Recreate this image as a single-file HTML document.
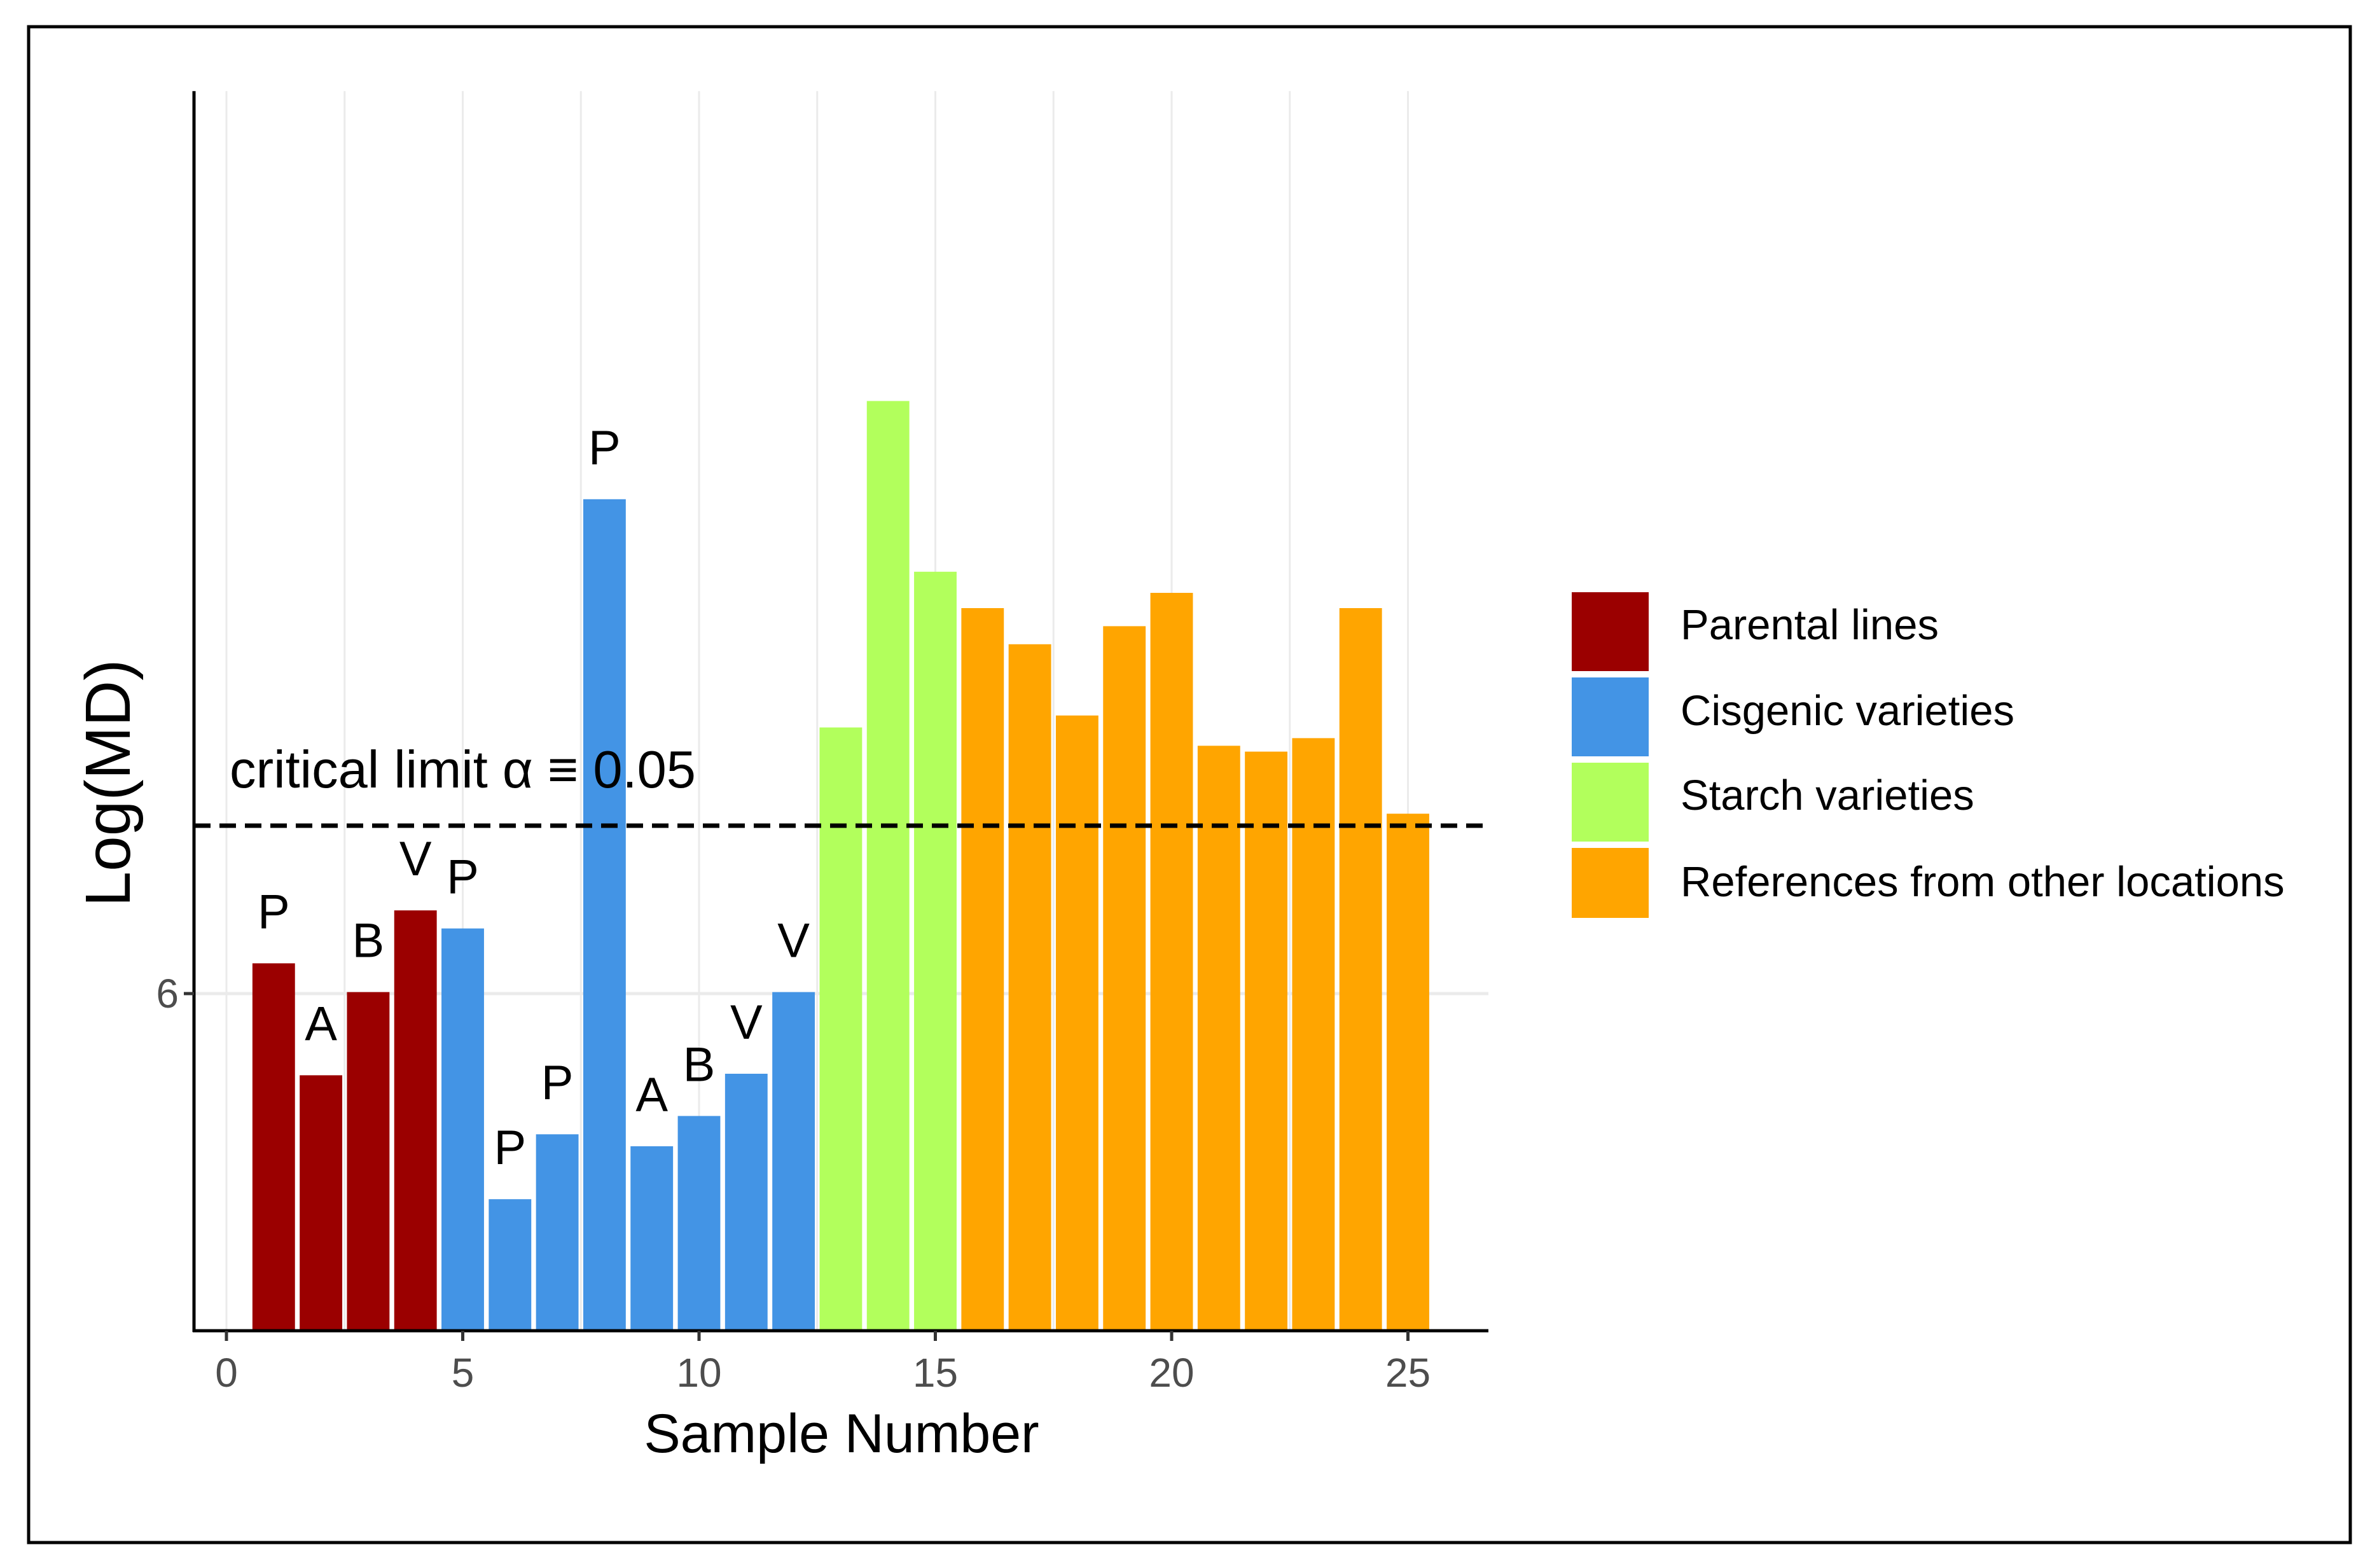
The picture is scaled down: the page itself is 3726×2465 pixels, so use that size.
<!DOCTYPE html>
<html><head><meta charset="utf-8"><style>
html,body{margin:0;padding:0;background:#fff}
svg{display:block}
text{font-family:"Liberation Sans",sans-serif}
</style></head><body>
<svg id="chart" width="3726" height="2465" viewBox="0 0 3726 2465" xmlns="http://www.w3.org/2000/svg">
<rect x="45" y="42" width="3650" height="2383" fill="#fff" stroke="#000" stroke-width="5"/>
<g id="grid"></g>
<g id="bars"></g>
<g id="labels"></g>
<g id="axes"></g>
<text transform="translate(204,1231) rotate(-90)" text-anchor="middle" font-size="100" fill="#000">Log(MD)</text>
<text x="1323" y="2283" text-anchor="middle" font-size="86" fill="#000">Sample Number</text>
<text x="361" y="1238" font-size="83" fill="#000">critical limit α ≡ 0.05</text>
<g>
<rect x="2471" y="931" width="121" height="124" fill="#9b0000"/>
<text x="2642" y="1005" font-size="67">Parental lines</text>
<rect x="2471" y="1065" width="121" height="124" fill="#4394e5"/>
<text x="2642" y="1140" font-size="67">Cisgenic varieties</text>
<rect x="2471" y="1199" width="121" height="124" fill="#b2ff5c"/>
<text x="2642" y="1273" font-size="67">Starch varieties</text>
<rect x="2471" y="1333" width="121" height="110" fill="#ffa500"/>
<text x="2642" y="1409" font-size="67">References from other locations</text>
</g>
</svg>
<script>
const samples = [1,2,3,4,5,6,7,8,9,10,11,12,13,14,15,16,17,18,19,20,21,22,23,24,25];
const values = [6.119,5.679,6.006,6.327,6.256,5.192,5.447,7.943,5.400,5.519,5.685,6.006,7.046,8.329,7.658,7.515,7.373,7.093,7.444,7.575,6.974,6.951,7.004,7.515,6.707];
const groups = ['parental','parental','parental','parental','cisgenic','cisgenic','cisgenic','cisgenic','cisgenic','cisgenic','cisgenic','cisgenic','starch','starch','starch','references','references','references','references','references','references','references','references','references','references'];
const barLabels = ['P','A','B','V','P','P','P','P','A','B','V','V','','','','','','','','','','','','',''];
const xTicks = [0,5,10,15,20,25];
const yTicks = [6];
const criticalLimit = 6.660;
const colors = {parental:'#9b0000',cisgenic:'#4394e5',starch:'#b2ff5c',references:'#ffa500'};
const NS='http://www.w3.org/2000/svg';
const X0=356, XU=74.3, YREF=1562, YU=400, YMIN=4.675, YMAX=9.547;
function xs(v){return X0+v*XU;}
function ys(v){return YREF-(v-6)*YU;}
function mk(tag,attrs,parent){const e=document.createElementNS(NS,tag);for(const k in attrs)e.setAttribute(k,attrs[k]);parent.appendChild(e);return e;}
const grid=document.getElementById('grid'),bars=document.getElementById('bars'),labels=document.getElementById('labels'),axes=document.getElementById('axes');
const plotLeft=305,plotRight=2340,plotTop=ys(YMAX),plotBottom=ys(YMIN);
for(let g=0;g<=25;g+=2.5){
  const l=mk('line',{x1:xs(g),x2:xs(g),y1:plotTop,y2:plotBottom,stroke:'#ebebeb','stroke-width':3},grid);
  
  
}
yTicks.forEach(t=>{
  const l=mk('line',{x1:plotLeft,x2:plotRight,y1:ys(t),y2:ys(t),stroke:'#ebebeb','stroke-width':5},grid);
  
  
});
samples.forEach((s,i)=>{
  const w=0.9*XU;
  const r=mk('rect',{x:xs(s)-w/2,y:ys(values[i]),width:w,height:plotBottom-ys(values[i]),fill:colors[groups[i]]},bars);
  
  
  if(barLabels[i]){
    const t=mk('text',{x:xs(s),y:ys(values[i])-55,'text-anchor':'middle','font-size':76,fill:'#000'},labels);
    t.textContent=barLabels[i];
    
    
  }
});
const d=mk('line',{x1:plotLeft,x2:plotRight,y1:ys(criticalLimit),y2:ys(criticalLimit),stroke:'#000','stroke-width':7,'stroke-dasharray':'26 14'},labels);


const ya=mk('line',{x1:plotLeft,x2:plotLeft,y1:plotTop,y2:plotBottom+2,stroke:'#000','stroke-width':5},axes);


const xa=mk('line',{x1:plotLeft-2,x2:plotRight,y1:plotBottom,y2:plotBottom,stroke:'#000','stroke-width':5},axes);


xTicks.forEach(t=>{
  const tk=mk('line',{x1:xs(t),x2:xs(t),y1:plotBottom,y2:plotBottom+16,stroke:'#333','stroke-width':5},axes);
  
  
  const tl=mk('text',{x:xs(t),y:plotBottom+88,'text-anchor':'middle','font-size':64,fill:'#4d4d4d'},axes);
  tl.textContent=t;
  
  
});
yTicks.forEach(t=>{
  const tk=mk('line',{x1:plotLeft-16,x2:plotLeft,y1:ys(t),y2:ys(t),stroke:'#333','stroke-width':5},axes);
  
  
  const tl=mk('text',{x:plotLeft-24,y:ys(t)+22,'text-anchor':'end','font-size':64,fill:'#4d4d4d'},axes);
  tl.textContent=t;
  
  
});
</script>
</body></html>
